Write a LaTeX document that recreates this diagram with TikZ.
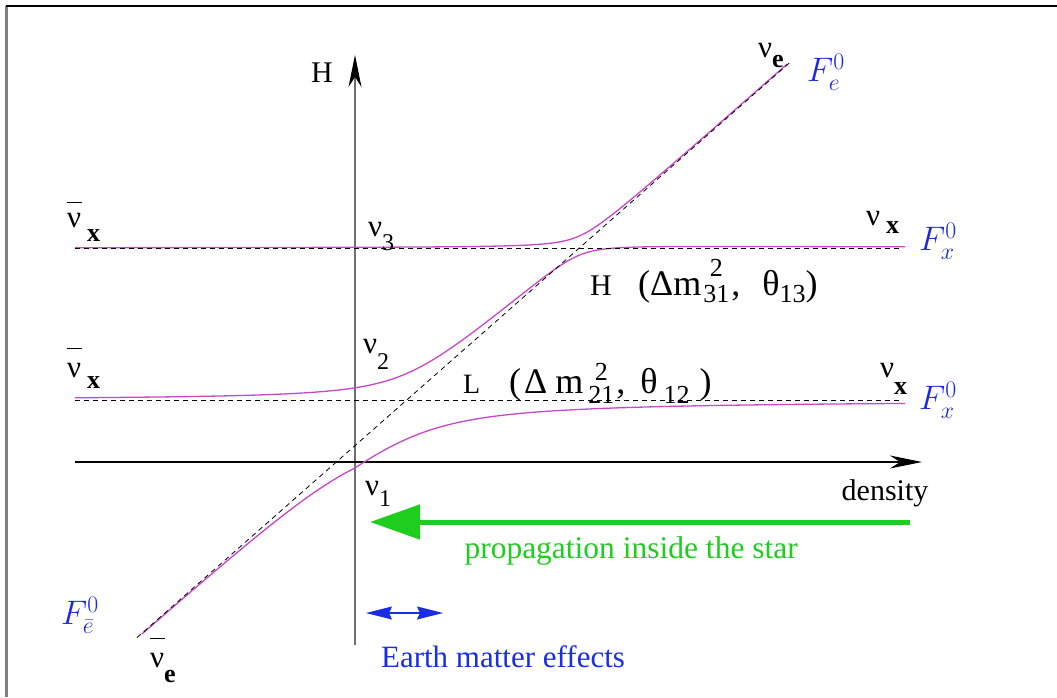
\RequirePackage{fix-cm}
\documentclass[tikz,border=0pt]{standalone}
\usepackage{fontspec}
\setmainfont{Liberation Serif}
\usetikzlibrary{arrows.meta}
\definecolor{mag}{RGB}{200,70,200}
\definecolor{fblue}{RGB}{30,40,220}
\definecolor{eblue}{RGB}{25,45,230}
\definecolor{sgreen}{RGB}{30,205,30}
\definecolor{axgray}{RGB}{110,110,110}
\newcommand\lowr[3]{\raisebox{-#1}{\fontsize{#2}{#2}\selectfont #3}}
\newcommand\nbar[1]{\makebox[0pt][l]{\raisebox{#1}{\rule{15pt}{1.2pt}}}}
\newcommand\stk[4]{\setbox0\hbox{#2}\rlap{\hbox to\wd0{\hss\raisebox{#3}{#1}\hss}}\raisebox{-#4}{\box0}}
\begin{document}
\begin{tikzpicture}[x=1pt,y=-1pt,
  lab/.style={inner sep=0pt, anchor=base west, font=\fontsize{31}{31}\selectfont},
  fl/.style={inner sep=0pt, text=fblue, font=\fontsize{34}{34}\selectfont},
  txt/.style={inner sep=0pt, anchor=base, font=\fontsize{30}{30}\selectfont},
  dsh/.style={draw=black, line width=0.8pt, dash pattern=on 5pt off 4pt},
  crv/.style={draw=mag, line width=1.3pt},
  axtip/.style={-{Stealth[length=32pt,width=13pt,inset=10pt,color=black]}}
]
\useasboundingbox (0,0) rectangle (1057,697);
% frame
\coordinate (f0) at (6,6);
\coordinate (f1) at (1057,6);
\coordinate (f2) at (6,697);
\draw[line width=3pt, draw=gray] (f0) -- (f2);
\draw[line width=2pt] (f0) -- (f1);
% axes
\coordinate (vb) at (355,645);
\coordinate (vt) at (355,55);
\coordinate (hl) at (75,462);
\coordinate (hr) at (922,462);
\draw[line width=1.3pt, draw=axgray, axtip] (vb) -- (vt);
\draw[line width=1.3pt, axtip] (hl) -- (hr);
% curves
\def\dd{(635-0.881*(\x-140))}
\draw[crv] plot[domain=75:787, samples=160, smooth]
  (\x, {(\dd+248)/2 - 100*sqrt(((\dd-248)/200)^2 + 0.0144)});
\draw[crv] plot[domain=75:905, samples=200, smooth]
  (\x, {(\dd+400)/2 - 100*sqrt(((\dd-400)/200)^2 + 0.0756) + (\dd+248)/2 + 100*sqrt(((\dd-248)/200)^2 + 0.0144) - \dd});
\draw[crv] plot[domain=142:905, samples=160, smooth]
  (\x, {(\dd+400)/2 + 100*sqrt(((\dd-400)/200)^2 + 0.1521*min(1,exp((\x-355)/100)))});
% dashed lines
\coordinate (tl) at (75,248);
\coordinate (tr) at (903,248);
\coordinate (ml) at (75,400);
\coordinate (mr) at (903,400);
\coordinate (dgb) at (137,637.6);
\coordinate (dgt) at (790,62.4);
\draw[dsh] (tl) -- (tr);
\draw[dsh] (ml) -- (mr);
\draw[dsh] (dgb) -- (dgt);
% arrows
\coordinate (ga) at (910,522);
\coordinate (gb) at (370,522);
\draw[line width=5pt, draw=sgreen, -{Triangle[length=50pt,width=34pt]}] (ga) -- (gb);
\coordinate (ea) at (366,613);
\coordinate (eb) at (443,613);
\draw[line width=1.2pt, draw=eblue, fill=eblue, {Stealth[length=26pt,width=13pt,inset=3pt]}-{Stealth[length=26pt,width=13pt,inset=3pt]}] (ea) -- (eb);
% labels
\node[txt] (Hax) at (322,82) {H};
\node[txt] (dens) at (885,500) {density};
\node[txt, text=eblue, font=\fontsize{31}{31}\selectfont] (earth) at (503,667) {Earth matter effects};
\node[inner sep=0pt, anchor=base east, text=sgreen, font=\fontsize{31.5}{31.5}\selectfont] (prop) at (798,558) {propagation inside the star};
\node[lab] (nuxTL) at (67,227) {\nbar{24pt}ν\hspace{6pt}\lowr{14pt}{26}{\bfseries x}};
\node[lab] (nuxBL) at (67,377) {\nbar{28pt}ν\hspace{6pt}\lowr{11pt}{26}{\bfseries x}};
\node[lab] (nuxTR) at (866,225) {ν\hspace{6pt}\lowr{8pt}{26}{\bfseries x}};
\node[lab] (nuxBR) at (880,377) {ν\lowr{17pt}{26}{\bfseries x}};
\node[lab] (nueT) at (758,57) {ν\lowr{10pt}{26}{\bfseries e}};
\node[lab] (nueB) at (150,667) {\nbar{28pt}ν\lowr{15pt}{26}{\bfseries e}};
\node[lab] (nu1) at (365,495) {ν\lowr{11pt}{24}{1}};
\node[lab] (nu2) at (363,353) {ν\lowr{16pt}{24}{2}};
\node[lab] (nu3) at (368,236) {ν\lowr{14pt}{24}{3}};
\node[lab, font=\fontsize{30}{30}\selectfont] (Hlab) at (590,295) {H};
\node[lab, font=\fontsize{28}{28}\selectfont] (Llab) at (463,393) {L};
\node[lab, font=\fontsize{36}{36}\selectfont] (Hform) at (638,295)
  {(Δm\hspace{2pt}{\fontsize{26}{26}\selectfont\stk{2}{31}{19pt}{7pt}}\hspace{2pt},\hspace{22pt}θ{\fontsize{26}{26}\selectfont\raisebox{-7pt}{13}})};
\node[lab, font=\fontsize{36}{36}\selectfont] (Lform) at (509,393)
  {(\hspace{3pt}Δ\hspace{8pt}m\hspace{5pt}{\fontsize{26}{26}\selectfont\stk{2}{21}{13pt}{10pt}}\hspace{2pt},\hspace{15pt}θ\hspace{6pt}{\fontsize{26}{26}\selectfont\raisebox{-10pt}{12}}\hspace{10pt})};
\node[fl] (FeT) at (826,72) {$F_e^0$};
\node[fl] (FxT) at (938,241) {$F_x^0$};
\node[fl] (FxB) at (938,400) {$F_x^0$};
\node[fl] (FeB) at (80,615) {$F_{\bar e}^0$};
\end{tikzpicture}
\end{document}
